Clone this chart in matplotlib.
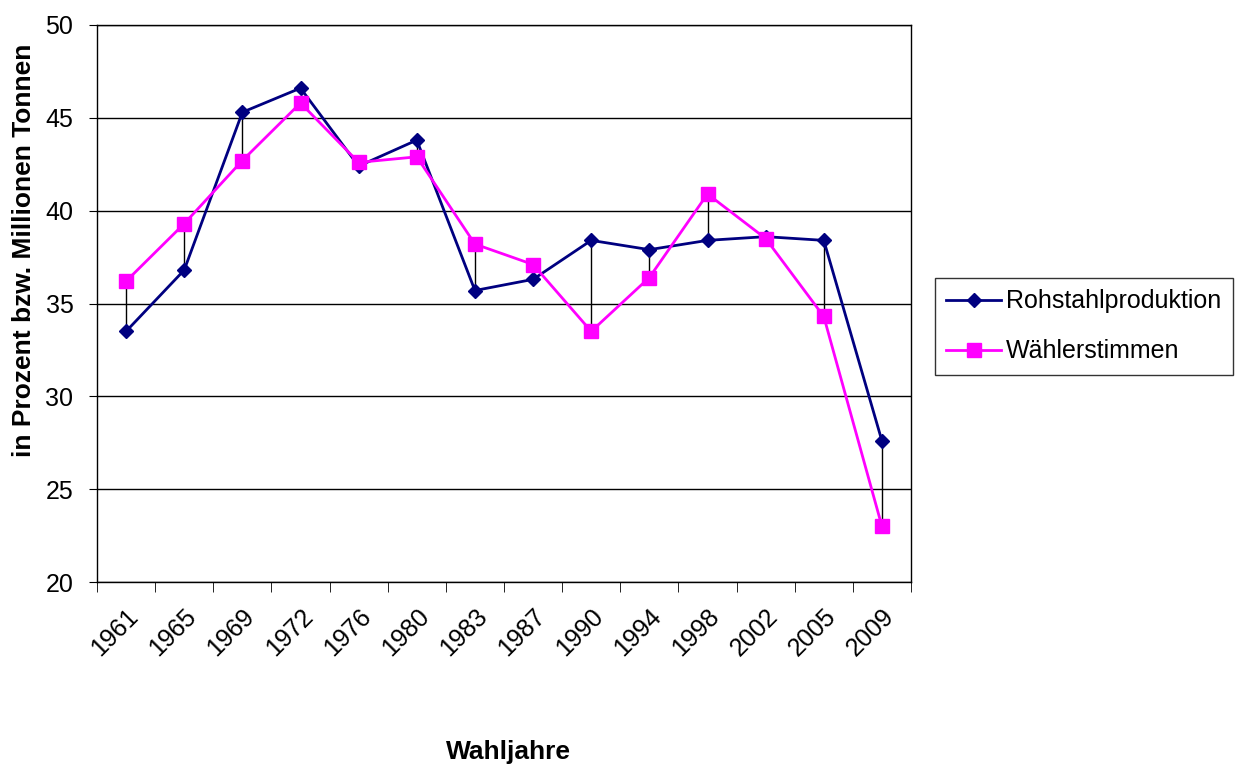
import numpy as np
import matplotlib; matplotlib.use("Agg")
import matplotlib.pyplot as plt

plt.rcParams.update({"font.family": ["Liberation Sans", "DejaVu Sans"]})

jahre = ["1961", "1965", "1969", "1972", "1976", "1980", "1983", "1987",
         "1990", "1994", "1998", "2002", "2005", "2009"]
rohstahl = [33.5, 36.8, 45.3, 46.6, 42.4, 43.8, 35.7, 36.3, 38.4, 37.9, 38.4, 38.6, 38.4, 27.6]
waehler = [36.2, 39.3, 42.7, 45.8, 42.6, 42.9, 38.2, 37.1, 33.5, 36.4, 40.9, 38.5, 34.3, 23.0]

NAVY, MAG = "#000080", "#FF00FF"

fig = plt.figure(figsize=(12.46, 7.67), dpi=100)
ax = fig.add_axes([97/1246, 1 - 582/767, (911-97)/1246, (582-25)/767])

x = np.arange(len(jahre))
lo = np.minimum(rohstahl, waehler); hi = np.maximum(rohstahl, waehler)
ax.vlines(x, lo, hi, color="black", lw=1.0, zorder=2)
ax.plot(x, rohstahl, color=NAVY, lw=2, marker="D", ms=7, label="Rohstahlproduktion", zorder=3)
ax.plot(x, waehler, color=MAG, lw=2, marker="s", ms=10, label="Wählerstimmen", zorder=4)

ax.set_xlim(-0.5, len(jahre) - 0.5)
ax.set_ylim(20, 50)
ax.set_yticks(range(20, 51, 5))
ax.yaxis.grid(True, color="black", lw=1)
ax.set_axisbelow(True)
ax.set_xticks(x)
ax.set_xticklabels(jahre, rotation=45, ha="right", rotation_mode="anchor", fontsize=18)
ax.set_xticks(np.arange(-0.5, len(jahre)), minor=True)
ax.tick_params(axis="x", which="major", length=0, pad=16)
ax.tick_params(axis="x", which="minor", length=7, direction="out", color="black")
ax.tick_params(axis="y", length=6, direction="out", labelsize=18, pad=11)
for s in ax.spines.values():
    s.set_color("black"); s.set_linewidth(1)

fig.text(24/1246, 1 - 250/767, "in Prozent bzw. Millionen Tonnen", fontsize=19, fontweight="bold",
         rotation=90, ha="center", va="center")
fig.text(508/1246, 1 - 752/767, "Wahljahre", fontsize=19, fontweight="bold",
         ha="center", va="center")

leg = ax.legend(loc="upper left", bbox_to_anchor=(935/1246, 1 - 278/767),
                bbox_transform=fig.transFigure, fontsize=18, frameon=True,
                fancybox=False, edgecolor="black", handlelength=2.2, labelspacing=1.05,
                handletextpad=0.2, borderpad=0.45, borderaxespad=0)
leg.get_frame().set_linewidth(1)

fig.savefig("out.png", dpi=100, facecolor="white")
